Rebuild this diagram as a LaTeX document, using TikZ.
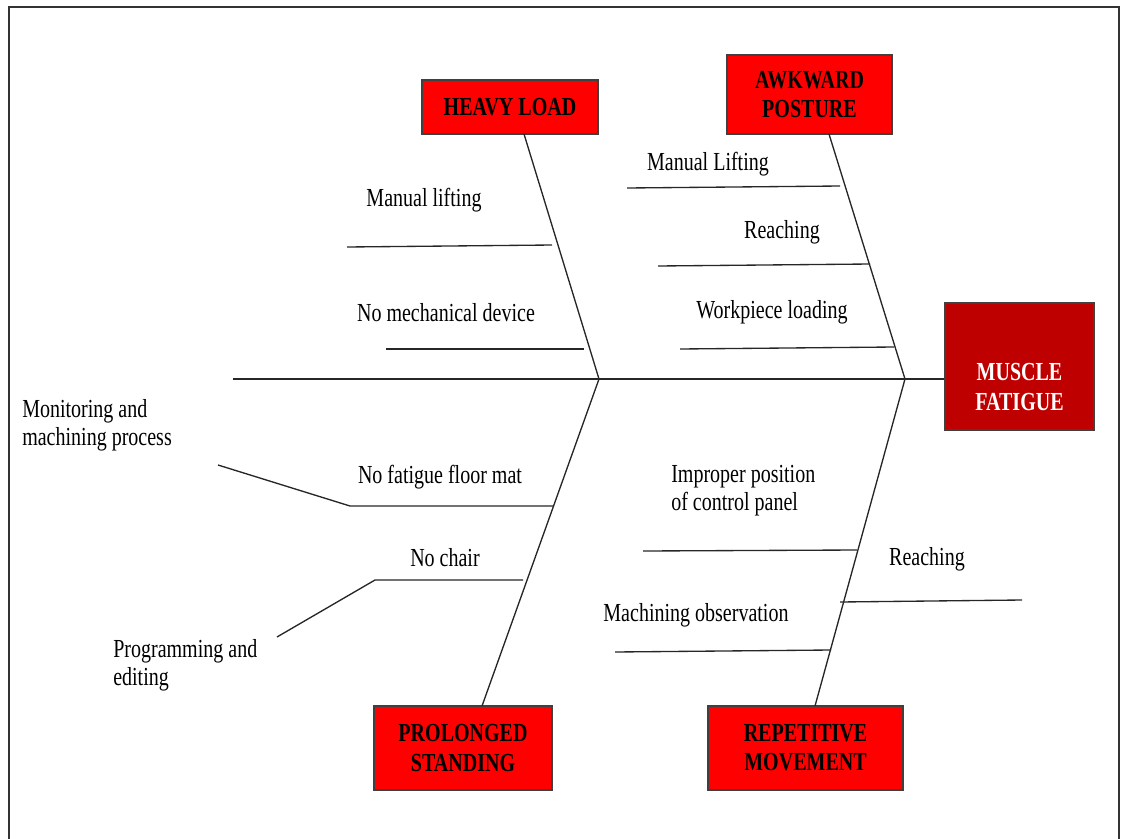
\documentclass[tikz,border=0pt]{standalone}
\usepackage{fontspec}
\setmainfont{Liberation Serif}[FakeStretch=0.77]
\usetikzlibrary{calc}
\begin{document}
\begin{tikzpicture}[x=0.75pt,y=-0.75pt,
  bone/.style={line width=1pt, draw=black!85},
  frame/.style={line width=1.5pt, draw=black!80},
  cause/.style={draw=black!75, line width=1.1pt, fill=red, align=center, inner sep=0pt,
    font=\fontsize{19.5pt}{22pt}\selectfont\bfseries},
  effect/.style={draw=black!75, line width=1.1pt, fill=red!75!black, inner sep=0pt},
  lbl/.style={inner sep=0pt, yshift=-2pt, font=\fontsize{19.5pt}{21pt}\selectfont},
  mlbl/.style={lbl, align=left, anchor=west}]
\useasboundingbox (0,0) rectangle (1122,839);
% frame
\draw[frame] (8.5,839) -- (8.5,6.5) -- (1118.5,6.5) -- (1118.5,839);

% boxes
\node[cause, minimum width=132pt, minimum height=40.5pt] (HL) at (510,107) {HEAVY LOAD};
\node[cause, minimum width=123.75pt, minimum height=59.25pt] (AP) at (809.5,94.5) {AWKWARD\\POSTURE};
\node[cause, minimum width=133.5pt, minimum height=63pt] (PS) at (463,748) {PROLONGED\\STANDING};
\node[cause, minimum width=146.25pt, minimum height=63pt] (RM) at (805.5,748) {REPETITIVE\\MOVEMENT};
\node[effect, minimum width=111.75pt, minimum height=95.25pt] (MF) at (1019.5,366.5) {};
\node[inner sep=0pt, text=white, align=center, font=\fontsize{19.5pt}{22pt}\selectfont\bfseries] (MFt) at (1019.5,387) {MUSCLE\\FATIGUE};

% spine
\coordinate (tail) at (233,379);
\coordinate (J1) at (599,379);
\coordinate (J2) at (905,379);
\draw[bone] (tail) -- (J1) -- (J2) -- (J2 -| MF.west);

% main bones
\coordinate (HLb) at (524,134);
\coordinate (APb) at (829,134);
\coordinate (PSb) at (482,706);
\coordinate (RMb) at (815,706);
\draw[bone] (HLb) -- (J1);
\draw[bone] (APb) -- (J2);
\draw[bone] (J1) -- (PSb);
\draw[bone] (J2) -- (RMb);

% heavy load sub-bones
\coordinate (h1a) at (347,247); \coordinate (h1b) at (552,245);
\coordinate (h2a) at (386,349); \coordinate (h2b) at (584,349);
\draw[bone] (h1a) -- (h1b);
\draw[bone] (h2a) -- (h2b);
\node[lbl] (t1) at (424,197) {Manual lifting};
\node[lbl] (t2) at (446,310) {No mechanical device};

% awkward posture sub-bones
\coordinate (a1a) at (627,188); \coordinate (a1b) at (840,186);
\coordinate (a2a) at (658,266); \coordinate (a2b) at (870,264);
\coordinate (a3a) at (680,349); \coordinate (a3b) at (894,347);
\draw[bone] (a1a) -- (a1b);
\draw[bone] (a2a) -- (a2b);
\draw[bone] (a3a) -- (a3b);
\node[lbl] (t3) at (708,161) {Manual Lifting};
\node[lbl] (t4) at (782,230) {Reaching};
\node[lbl] (t5) at (772,310) {Workpiece loading};

% prolonged standing sub-bones
\coordinate (p1o) at (218,465); \coordinate (p1a) at (350,506); \coordinate (p1b) at (553,506);
\coordinate (p2o) at (277,637); \coordinate (p2a) at (375,580); \coordinate (p2b) at (523,580);
\draw[bone] (p1o) -- (p1a) -- (p1b);
\draw[bone] (p2o) -- (p2a) -- (p2b);
\node[lbl] (t6) at (440,474) {No fatigue floor mat};
\node[lbl] (t7) at (445,555) {No chair};
\node[mlbl] (t8) at (22,423) {Monitoring and\\machining process};
\node[mlbl] (t9) at (113,663) {Programming and\\editing};

% repetitive movement sub-bones
\coordinate (r1a) at (643,551); \coordinate (r1b) at (857,550);
\coordinate (r2a) at (840,602); \coordinate (r2b) at (1022,600);
\coordinate (r3a) at (615,652); \coordinate (r3b) at (831,650);
\draw[bone] (r1a) -- (r1b);
\draw[bone] (r2a) -- (r2b);
\draw[bone] (r3a) -- (r3b);
\node[mlbl] (t10) at (671,488) {Improper position\\of control panel};
\node[lbl] (t11) at (927,557) {Reaching};
\node[lbl] (t12) at (696,613) {Machining observation};
\end{tikzpicture}
\end{document}
